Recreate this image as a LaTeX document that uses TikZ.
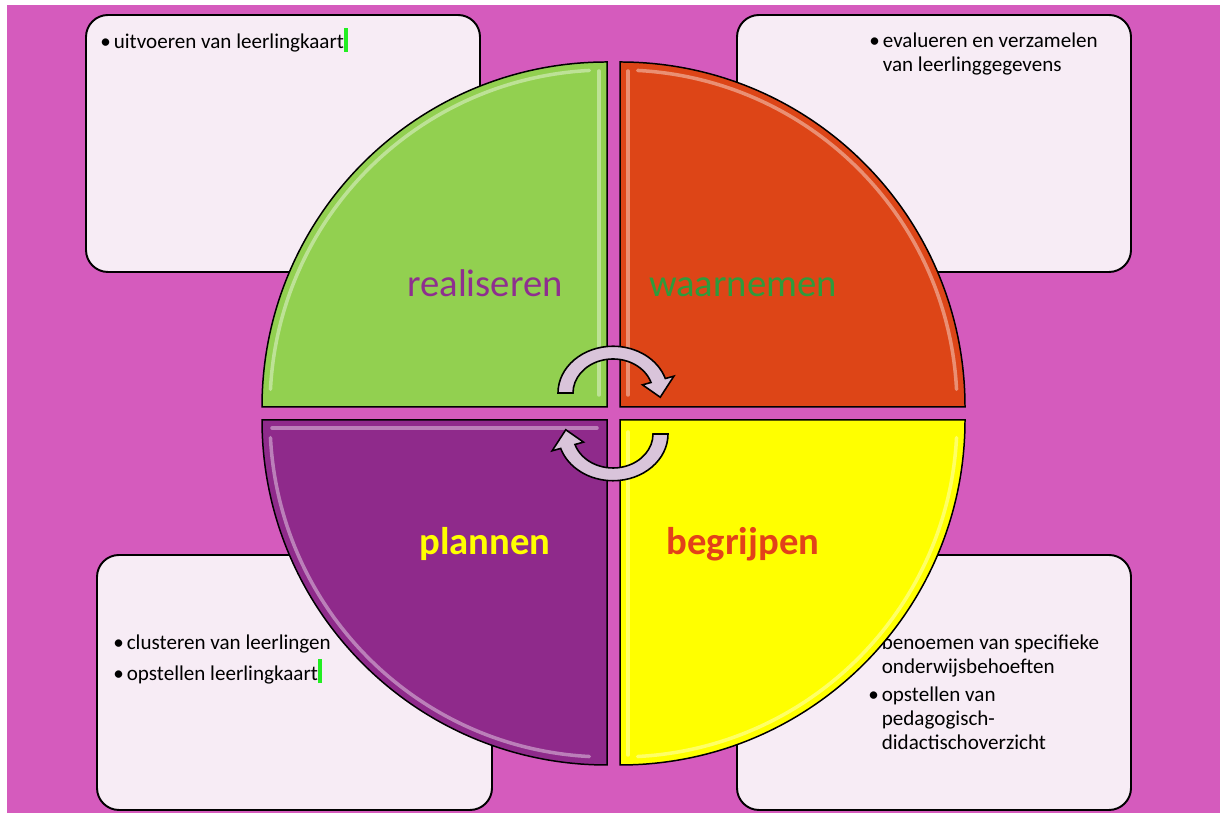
\documentclass[tikz,border=0pt]{standalone}
\usepackage{fontspec}
\setmainfont{Carlito}
\definecolor{roze}{HTML}{D55BBD}
\definecolor{lichtroze}{HTML}{F7ECF5}
\definecolor{groen}{HTML}{92D050}
\definecolor{oranje}{HTML}{DD4517}
\definecolor{paars}{HTML}{8F2A8B}
\definecolor{geel}{HTML}{FFFF00}
\definecolor{lila}{HTML}{D9C4DA}
\definecolor{tekstpaars}{HTML}{8E2F8F}
\definecolor{tekstgroen}{HTML}{2E9B3C}
\definecolor{tekstrood}{HTML}{E2421A}
\definecolor{cursorgroen}{HTML}{22EE22}
\newcommand{\cursor}{\textcolor{cursorgroen}{\rule[-1.7pt]{2.2pt}{13.6pt}}}

\tikzset{
  vak/.style={draw=black, line width=1.1pt, fill=lichtroze, rounded corners=0.44cm},
  kwart/.style={draw=black, line width=0.85pt},
  glans/.style={white, opacity=0.4, line width=2pt, line cap=round},
  lijst/.style={anchor=base west, inner sep=0pt, font=\fontsize{12pt}{13.6pt}\selectfont},
  fase/.style={anchor=base, inner sep=0pt, font=\fontsize{22pt}{26pt}\selectfont},
  fasevet/.style={fase, font=\fontsize{22pt}{26pt}\selectfont\bfseries},
  pijl/.style={draw=black, line width=0.9pt, fill=lila}
}

\begin{document}
\begin{tikzpicture}[x=0.02cm, y=0.02cm]
				\fill[white] (0,0) rectangle (1220,813);
				\fill[roze] (7,0) rectangle (1220,808);
				% vakken met tekst
				\draw[vak] (86,541) rectangle (480,798);
				\draw[vak] (737,541) rectangle (1131,798);
				\draw[vak] (97,3) rectangle (492,258);
				\draw[vak] (737,3) rectangle (1131,258);
				\node[lijst] (tekstLB) at (100,764) {\begin{tabular}[t]{@{}l@{\hspace{1.7pt}}l@{}}
					\textbullet & uitvoeren van leerlingkaart\cursor
				\end{tabular}};
				\node[lijst] (tekstRB) at (869,765) {\begin{tabular}[t]{@{}l@{\hspace{1.7pt}}l@{}}
					\textbullet & evalueren en verzamelen\\
					& van leerlinggegevens
				\end{tabular}};
				\node[lijst] (tekstLO) at (113,163) {\begin{tabular}[t]{@{}l@{\hspace{1.7pt}}l@{}}
					\textbullet & clusteren van leerlingen\\[1.2pt]
					\textbullet & opstellen leerlingkaart\cursor
				\end{tabular}};
				\node[lijst] (tekstRO) at (868,163) {\begin{tabular}[t]{@{}l@{\hspace{1.7pt}}l@{}}
					\textbullet & benoemen van specifieke\\
					& onderwijsbehoeften\\[2.3pt]
					\textbullet & opstellen van\\
					& pedagogisch-\\
					& didactischoverzicht
				\end{tabular}};
				% kwarten van de cirkel
				\draw[kwart, fill=groen] (607,406) -- (262,406) arc[start angle=180, end angle=90, radius=345] -- cycle;
				\draw[kwart, fill=oranje] (620,406) -- (620,751) arc[start angle=90, end angle=0, radius=345] -- cycle;
				\draw[kwart, fill=paars] (607,393) -- (607,48) arc[start angle=270, end angle=180, radius=345] -- cycle;
				\draw[kwart, fill=geel] (620,393) -- (965,393) arc[start angle=360, end angle=270, radius=345] -- cycle;
				\draw[glans] (607,406) ++(177:337) arc[start angle=177, end angle=93, radius=337];
				\draw[glans] (599,418) -- (599,742);
				\draw[glans] (620,406) ++(87:337) arc[start angle=87, end angle=3, radius=337];
				\draw[glans] (628,418) -- (628,742);
				\draw[glans] (607,393) ++(267:337) arc[start angle=267, end angle=183, radius=337];
				\draw[glans] (272,385) -- (597,385);
				\draw[glans] (620,393) ++(357:337) arc[start angle=357, end angle=273, radius=337];
				\draw[glans] (628,381) -- (628,58);
				% namen van de fasen
				\node[fase, text=tekstpaars] (realiseren) at (485,516) {realiseren};
				\node[fase, text=tekstgroen] (waarnemen) at (743,516) {waarnemen};
				\node[fasevet, text=geel] (plannen) at (485,258) {plannen};
				\node[fasevet, text=tekstrood] (begrijpen) at (743,258) {begrijpen};
				% draaiende pijlen in het midden
				\foreach \cy/\hoek in {420/0, 379/180} {
					\begin{scope}[shift={(613,\cy)}, rotate=\hoek, yscale=0.85]
						\draw[pijl] (180:55) arc[start angle=180, end angle=18, radius=55] -- (18:64) -- (-6:47.5) -- (18:31) -- (18:40) arc[start angle=18, end angle=180, radius=40] -- cycle;
					\end{scope}
				}
			\end{tikzpicture}
\end{document}
